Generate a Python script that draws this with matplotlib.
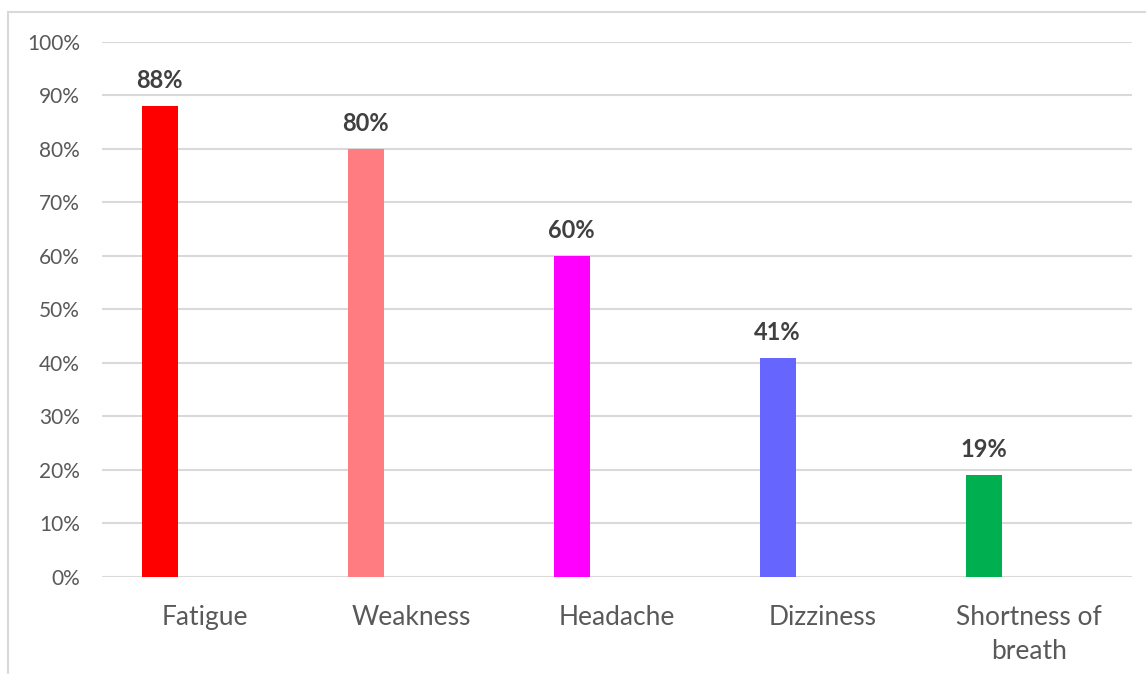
import matplotlib.pyplot as plt
import matplotlib.patches as mpatches
import numpy as np

# Symptom frequencies
symptoms = ["Fatigue", "Weakness", "Headache", "Dizziness", "Shortness of\nbreath"]
values = [0.88, 0.80, 0.60, 0.41, 0.19]
bar_colors = ["#FF0000", "#FF7C80", "#FF00FF", "#6666FF", "#00B050"]
y_ticks = [0.0, 0.1, 0.2, 0.3, 0.4, 0.5, 0.6, 0.7, 0.8, 0.9, 1.0]

plt.rcParams['font.family'] = ['Lato', 'DejaVu Sans']

fig = plt.figure(figsize=(11.46, 6.74), dpi=100)
W, H = 1146, 674

# outer chart frame (cropped on right and bottom like the screenshot)
frame = mpatches.Rectangle((8 / W, -0.05), 1.2, (H - 12) / H + 0.05,
                           transform=fig.transFigure, fill=False,
                           edgecolor="#d9d9d9", linewidth=1.5)
fig.patches.append(frame)

ax = fig.add_axes([102 / W, (H - 577) / H, (1132 - 102) / W, (577 - 41.7) / H])

x = np.arange(len(symptoms))
bars = ax.bar(x - 0.22, values, width=0.175, color=bar_colors, zorder=3)

for xi, v in zip(x, values):
    ax.annotate(f"{v * 100:.0f}%", (xi - 0.22, v), xytext=(0, 10),
                textcoords="offset points", ha="center", va="bottom",
                fontsize=17, fontweight="bold", color="#404040")

ax.set_xlim(-0.5, len(symptoms) - 0.5)
ax.set_ylim(0, 1.0)
ax.set_yticks(y_ticks)
ax.set_yticklabels([f"{t * 100:.0f}%" for t in y_ticks])
ax.set_xticks(x)
ax.set_xticklabels(symptoms, linespacing=1.45)

ax.grid(axis="y", color="#d9d9d9", linewidth=1.5, zorder=0)
ax.tick_params(axis="y", length=0, pad=16, labelsize=15, labelcolor="#595959")
ax.tick_params(axis="x", length=0, pad=20, labelsize=19, labelcolor="#595959")
for s in ax.spines.values():
    s.set_visible(False)

fig.savefig("out.png", dpi=100)
